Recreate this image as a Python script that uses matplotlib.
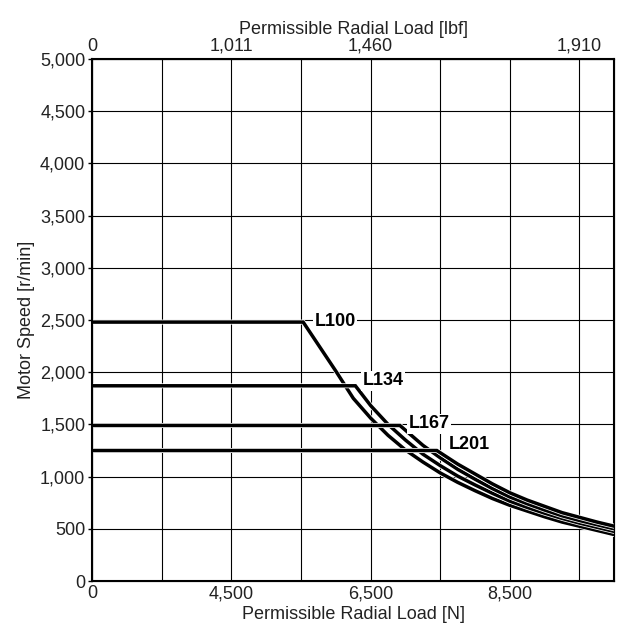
import matplotlib
matplotlib.use("Agg")
import matplotlib.pyplot as plt
import matplotlib.patheffects as pe

plt.rcParams['font.family'] = ['Liberation Sans', 'DejaVu Sans']

# datos (carga radial en N, velocidad en r/min)
carga_L100 = [2500, 5530, 5750, 6000, 6250, 6500, 6750, 7000, 7250, 7500, 7750,
              8000, 8250, 8500, 8750, 9000, 9250, 9500, 9750, 10000]
vel_L100 = [2480, 2480, 2260, 2010, 1750, 1560, 1395, 1255, 1140, 1035, 945,
            865, 790, 725, 670, 615, 565, 525, 485, 445]

carga_L134 = [2500, 6280, 6500, 6750, 7000, 7250, 7500, 7750, 8000, 8250, 8500,
              8750, 9000, 9250, 9500, 9750, 10000]
vel_L134 = [1870, 1870, 1680, 1500, 1350, 1215, 1105, 1005, 920, 840, 765,
            705, 650, 600, 555, 515, 475]

carga_L167 = [2500, 6920, 7250, 7500, 7750, 8000, 8250, 8500, 8750, 9000, 9250,
              9500, 9750, 10000]
vel_L167 = [1490, 1490, 1300, 1180, 1070, 975, 885, 805, 740, 680, 625,
            580, 540, 500]

carga_L201 = [2500, 7450, 7750, 8000, 8250, 8500, 8750, 9000, 9250, 9500, 9750,
              10000]
vel_L201 = [1250, 1250, 1120, 1025, 930, 845, 775, 715, 655, 610, 565, 525]

nombres = ["L100", "L134", "L167", "L201"]
pos_etiquetas = [(5990, 2484), (6680, 1918), (7340, 1504), (7920, 1303)]

ticks_N = [2500, 4500, 6500, 8500]
etiquetas_N = ["0", "4,500", "6,500", "8,500"]
ticks_lbf = [2500, 4500, 6500, 9500]
etiquetas_lbf = ["0", "1,011", "1,460", "1,910"]
ticks_vel = list(range(0, 5001, 500))

color_texto = "#222222"

fig = plt.figure(figsize=(6.21, 6.35), dpi=100)
ax = fig.add_axes([0.1486, 0.085, 0.8406, 0.8221])

# malla
for xg in range(2500, 10001, 1000):
    ax.axvline(xg, color="black", lw=0.8, zorder=1)
for yg in ticks_vel:
    ax.axhline(yg, color="black", lw=0.8, zorder=1)

curvas = [(carga_L100, vel_L100), (carga_L134, vel_L134),
          (carga_L167, vel_L167), (carga_L201, vel_L201)]
for cx, cy in curvas:
    ax.plot(cx, cy, color="black", lw=2.5, zorder=3, solid_joinstyle="miter",
            path_effects=[pe.Stroke(linewidth=3.6, foreground="white"), pe.Normal()])

for nombre, (px, py) in zip(nombres, pos_etiquetas):
    ax.text(px, py, nombre, fontsize=13, fontweight="bold", ha="center", va="center",
            color="black", zorder=4,
            bbox=dict(facecolor="white", edgecolor="none", pad=1.0))

ax.set_xlim(2500, 10000)
ax.set_ylim(0, 5000)
ax.set_xticks(ticks_N)
ax.set_xticklabels(etiquetas_N)
ax.set_yticks(ticks_vel)
ax.set_yticklabels([f"{v:,}" for v in ticks_vel])
ax.tick_params(axis="x", length=0, pad=3, labelsize=13, labelcolor=color_texto)
ax.tick_params(axis="y", length=3, width=1, pad=2, labelsize=13, labelcolor=color_texto)
ax.set_xlabel("Permissible Radial Load [N]", fontsize=13, labelpad=3, color=color_texto)
ax.set_ylabel("Motor Speed [r/min]", fontsize=13, labelpad=4, color=color_texto)
for s in ax.spines.values():
    s.set_linewidth(1.5)

ax_sup = ax.twiny()
ax_sup.set_xlim(2500, 10000)
ax_sup.set_xticks(ticks_lbf)
ax_sup.set_xticklabels(etiquetas_lbf)
ax_sup.tick_params(axis="x", length=0, pad=3, labelsize=13, labelcolor=color_texto)
ax_sup.set_xlabel("Permissible Radial Load [lbf]", fontsize=13, labelpad=3, color=color_texto)

fig.savefig("out.png", dpi=100)
